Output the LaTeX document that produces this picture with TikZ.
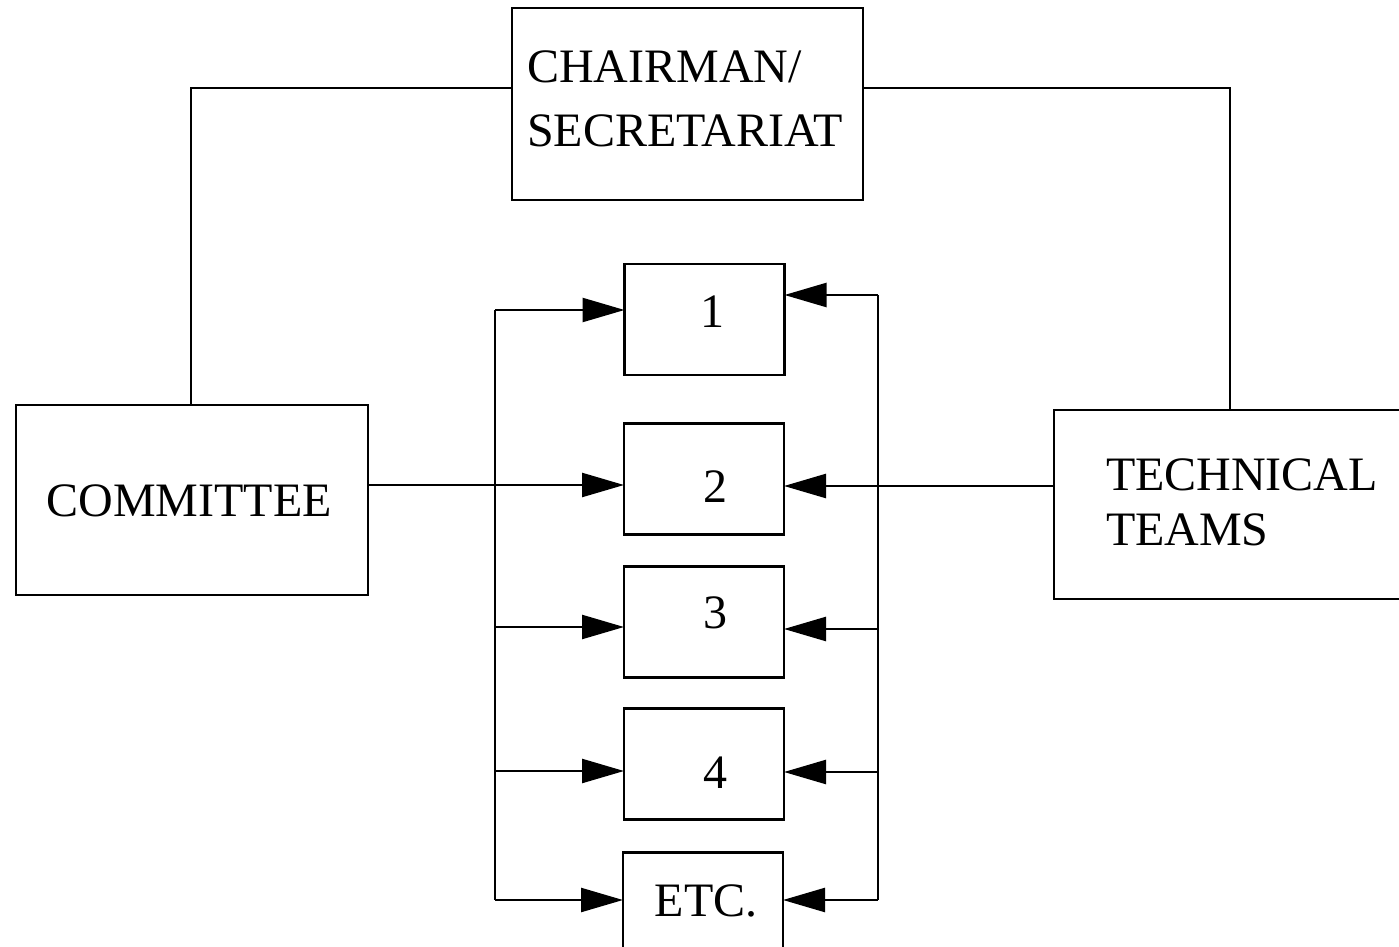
\documentclass[tikz,border=0pt]{standalone}
\usepackage{fontspec}
\setmainfont{Liberation Serif}
\usetikzlibrary{arrows.meta}
\begin{document}
\begin{tikzpicture}[x=0.5pt,y=-0.5pt,
  line width=1.2pt,
  box/.style={draw,line width=1.2pt,inner sep=0pt,outer sep=0pt},
  small/.style={box,minimum width=80pt,minimum height=55.5pt},
  lbl/.style={inner sep=0pt,outer sep=0pt,font=\fontsize{24}{28}\selectfont},
  arr/.style={-{Triangle[length=21pt,width=12pt]}},
]
\useasboundingbox (0,0) rectangle (1399,947);
\fill[white] (0,0) rectangle (1399,947);
\clip (0,0) rectangle (1399,947);

% boxes
\node[box,minimum width=175.5pt,minimum height=96pt] (chair) at (687.5,104) {};
\node[box,minimum width=176pt,minimum height=95pt] (comm) at (192,500) {};
\node[box,minimum width=183pt,minimum height=94.5pt] (tt) at (1237,504.5) {};
\node[small] (b1) at (704.5,319.5) {};
\node[small] (b2) at (704,479) {};
\node[small] (b3) at (704,622) {};
\node[small] (b4) at (704,764) {};
\node[small] (b5) at (703,908) {};

% labels
\node[lbl,anchor=base west] (chairA) at (527,83) {CHAIRMAN/};
\node[lbl,anchor=base west] (chairB) at (527,147) {SECRETARIAT};
\node[lbl,anchor=base] (commT) at (189,516) {COMMITTEE};
\node[lbl,anchor=base west] (ttA) at (1106,490) {TECHNICAL};
\node[lbl,anchor=base west] (ttB) at (1106,545) {TEAMS};
\node[lbl,anchor=base] (n1) at (712,328) {1};
\node[lbl,anchor=base] (n2) at (715,502) {2};
\node[lbl,anchor=base] (n3) at (715,628) {3};
\node[lbl,anchor=base] (n4) at (715,788) {4};
\node[lbl,anchor=base] (n5) at (706,916) {ETC.};

% chairman links
\coordinate (CL) at (191,88);
\coordinate (CR) at (1230,88);
\draw (chair.west |- CL) -- (CL) -- (CL |- comm.north);
\draw (chair.east |- CR) -- (CR) -- (CR |- tt.north);

% buses
\coordinate (L1) at (495,310);
\coordinate (L2) at (495,485);
\coordinate (L3) at (495,627);
\coordinate (L4) at (495,771);
\coordinate (L5) at (495,900);
\coordinate (R1) at (878,295);
\coordinate (R2) at (878,486);
\coordinate (R3) at (878,629);
\coordinate (R4) at (878,772);
\coordinate (R5) at (878,900);
\draw (L1) -- (L5);
\draw (R1) -- (R5);

% arrows in from left
\draw[arr] (L1) -- (L1 -| b1.west);
\draw[arr] (comm.east |- L2) -- (L2 -| b2.west);
\draw[arr] (L3) -- (L3 -| b3.west);
\draw[arr] (L4) -- (L4 -| b4.west);
\draw[arr] (L5) -- (L5 -| b5.west);

% arrows in from right
\draw[arr] (R1) -- (R1 -| b1.east);
\draw[arr] (tt.west |- R2) -- (R2 -| b2.east);
\draw[arr] (R3) -- (R3 -| b3.east);
\draw[arr] (R4) -- (R4 -| b4.east);
\draw[arr] (R5) -- (R5 -| b5.east);
\end{tikzpicture}
\end{document}
